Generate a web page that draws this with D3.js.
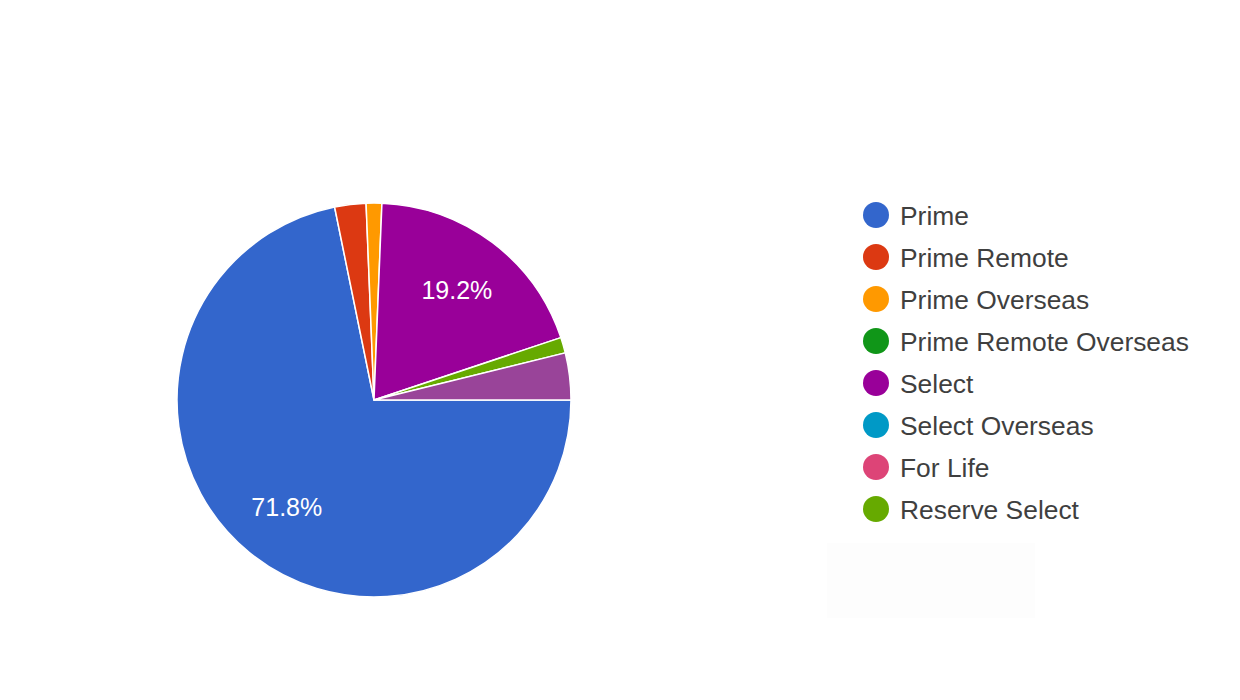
<!DOCTYPE html>
<html>
<head>
<meta charset="utf-8">
<script src="https://cdn.jsdelivr.net/npm/d3@7"></script>
<style>
  body { margin: 0; background: #fff; }
  svg { display: block; font-family: "Liberation Sans", Arial, sans-serif; }
</style>
</head>
<body>
<div id="chart"></div>
<script>
const width = 1240;
const height = 700;

// response counts per membership type (last slice has no legend entry on this page)
const categories = ["Prime", "Prime Remote", "Prime Overseas", "Prime Remote Overseas",
    "Select", "Select Overseas", "For Life", "Reserve Select", "Other"];
const counts = [56, 2, 1, 0, 15, 0, 0, 1, 3];
const colors = ["#3366cc", "#dc3912", "#ff9900", "#109618", "#990099",
    "#0099c6", "#dd4477", "#66aa00", "#994499"];
const legendCount = 8;

const svg = d3.select("#chart").append("svg")
    .attr("width", width)
    .attr("height", height);

const cx = 374, cy = 400, radius = 197;

const data = categories.map((c, i) => ({ name: c, value: counts[i], color: colors[i] }));
const total = d3.sum(counts);

// slices start at 3 o'clock and run clockwise
const pie = d3.pie()
    .sort(null)
    .value(d => d.value)
    .startAngle(Math.PI / 2)
    .endAngle(Math.PI / 2 + 2 * Math.PI);

const arc = d3.arc().innerRadius(0).outerRadius(radius);
const labelArc = d3.arc().innerRadius(radius * 0.7).outerRadius(radius * 0.7);

const g = svg.append("g").attr("transform", `translate(${cx},${cy})`);

const arcs = pie(data).filter(d => d.data.value > 0);

g.selectAll("path")
    .data(arcs)
    .enter().append("path")
    .attr("d", arc)
    .attr("fill", d => d.data.color)
    .attr("stroke", "#fff")
    .attr("stroke-width", 1.5);

// percentages only on the big slices
g.selectAll("text.pct")
    .data(arcs.filter(d => d.data.value / total > 0.05))
    .enter().append("text")
    .attr("class", "pct")
    .attr("transform", d => `translate(${labelArc.centroid(d)})`)
    .attr("text-anchor", "middle")
    .attr("dy", "0.36em")
    .attr("fill", "#fff")
    .attr("font-size", 25)
    .text(d => d3.format(".1%")(d.data.value / total));

// legend
const legend = svg.append("g").attr("transform", "translate(876,215)");

const item = legend.selectAll("g.item")
    .data(data.slice(0, legendCount))
    .enter().append("g")
    .attr("class", "item")
    .attr("transform", (d, i) => `translate(0,${i * 42})`);

item.append("circle")
    .attr("r", 13)
    .attr("fill", d => d.color);

item.append("text")
    .attr("x", 24)
    .attr("dy", "0.36em")
    .attr("fill", "#3f3f3f")
    .attr("font-size", 26.4)
    .text(d => d.name);

// faint panel under the legend
svg.append("rect")
    .attr("x", 827)
    .attr("y", 543)
    .attr("width", 208)
    .attr("height", 75)
    .attr("fill", "#fdfdfd");
</script>
</body>
</html>
